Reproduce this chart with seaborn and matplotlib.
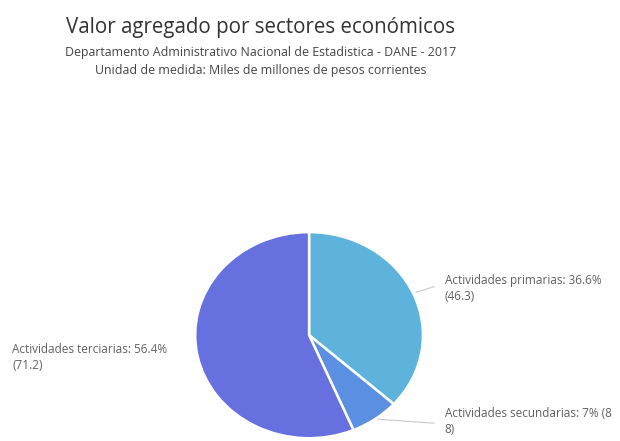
import numpy as np
import matplotlib
matplotlib.use("Agg")
import matplotlib.pyplot as plt
import seaborn as sns

sectores = ["Actividades primarias", "Actividades secundarias", "Actividades terciarias"]
valores = [46.3, 8.8, 71.2]
porcentajes = ["36.6%", "7%", "56.4%"]
colores = ["#5eb3dc", "#5a8fe2", "#6670df"]

sns.set_theme(style="white")
plt.rcParams['font.family'] = ['Open Sans', 'DejaVu Sans']

fig = plt.figure(figsize=(6.2, 4.41), dpi=100)

# pie axes (slightly wider than tall, like the reference)
ax = fig.add_axes([0.313, 0.004, 0.371, 0.472])
wedges, _ = ax.pie(valores, colors=colores, startangle=90, counterclock=False,
                   wedgeprops=dict(edgecolor="white", linewidth=1.8))
ax.set_xlim(-1.01, 1.01)
ax.set_ylim(-1.01, 1.01)
ax.set_aspect("auto")
ax.axis("off")

# labels with leader lines
etiquetas = [f"{s}: {p}\n({v})" for s, p, v in zip(sectores, porcentajes, valores)]
etiquetas[1] = "Actividades secundarias: 7% (8\n8)"
pos_texto = [(0.717, 0.346), (0.717, 0.045), (0.020, 0.190)]
pos_linea = [(0.705, 0.352), (0.705, 0.040), None]
for w, txt, pt, pl in zip(wedges, etiquetas, pos_texto, pos_linea):
    ang = np.deg2rad((w.theta1 + w.theta2) / 2)
    x, y = np.cos(ang), np.sin(ang)
    if pl is not None:
        ax.annotate("", xy=(x, y), xycoords="data", xytext=pl, textcoords="figure fraction",
                    arrowprops=dict(arrowstyle="-", color="#c8c8c8", lw=0.8))
    fig.text(pt[0], pt[1], txt, ha="left", va="center", fontsize=8.5, color="#606060",
             linespacing=1.3)

fig.text(0.42, 0.938, "Valor agregado por sectores económicos", ha="center", va="center",
         fontsize=14.8, color="#333333")
fig.text(0.42, 0.882, "Departamento Administrativo Nacional de Estadistica - DANE - 2017",
         ha="center", va="center", fontsize=8.9, color="#444444")
fig.text(0.42, 0.841, "Unidad de medida: Miles de millones de pesos corrientes",
         ha="center", va="center", fontsize=8.9, color="#444444")

fig.savefig("out.png", dpi=100)
